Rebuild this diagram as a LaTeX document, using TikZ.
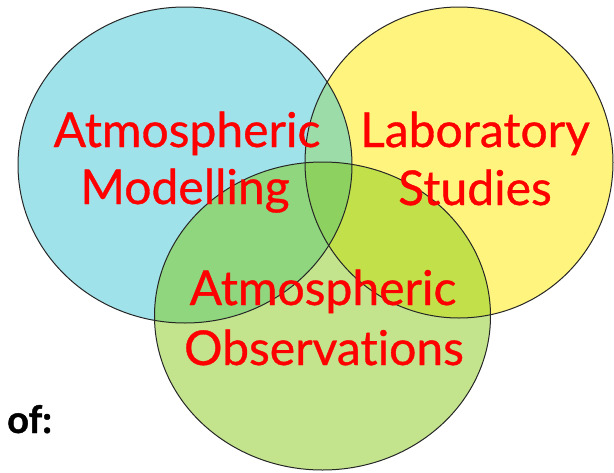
\documentclass[tikz,border=0pt]{standalone}
\usepackage{fontspec}
\setmainfont[Ligatures={NoCommon}]{Lato}
\newfontfamily\lblfont[Ligatures={NoCommon},FakeBold=0.7]{Lato}
\newfontfamily\offont[Ligatures={NoCommon},FakeBold=1.2]{Lato}
\definecolor{cblue}{HTML}{A0E2EA}
\definecolor{cyellow}{HTML}{FFF47E}
\definecolor{cgreen}{HTML}{C3E48D}
\definecolor{cby}{HTML}{9CDCA8}
\definecolor{cbg}{HTML}{8FD67F}
\definecolor{cyg}{HTML}{C2E04A}
\definecolor{cbyg}{HTML}{8DD160}
\definecolor{ctext}{HTML}{FF0000}
\begin{document}
\begin{tikzpicture}[x=1pt,y=-1pt,
  outline/.style={draw=black!85,line width=1pt},
  lbl/.style={text=ctext,font=\lblfont\fontsize{48}{48}\selectfont,inner sep=0pt,anchor=base},
  oflbl/.style={text=black,font=\offont\bfseries\fontsize{38}{38}\selectfont,inner sep=0pt,anchor=base west}]
\useasboundingbox (0,0) rectangle (614,472);
\def\blueE{(185,165) ellipse [x radius=167,y radius=158]}
\def\yellowE{(459,162.5) ellipse [x radius=154,y radius=155.5]}
\def\greenE{(322.5,316) ellipse [x radius=168,y radius=154]}
\fill[cblue] \blueE;
\fill[cyellow] \yellowE;
\fill[cgreen] \greenE;
\begin{scope}
  \clip \blueE;
  \fill[cby] \yellowE;
  \fill[cbg] \greenE;
\end{scope}
\begin{scope}
  \clip \yellowE;
  \fill[cyg] \greenE;
\end{scope}
\begin{scope}
  \clip \blueE;
  \clip \yellowE;
  \fill[cbyg] \greenE;
\end{scope}
\draw[outline] \blueE;
\draw[outline] \yellowE;
\draw[outline] \greenE;
\node[lbl] (modA) at (187,147) {Atmospheric};
\node[lbl] (modB) at (185,204) {Modelling};
\node[lbl] (labA) at (475,147) {Laboratory};
\node[lbl] (labB) at (475,205) {Studies};
\node[lbl] (obsA) at (323,305) {Atmospheric};
\node[lbl] (obsB) at (324,365) {Observations};
\node[oflbl] (of) at (7,433) {of:};
\end{tikzpicture}
\end{document}
